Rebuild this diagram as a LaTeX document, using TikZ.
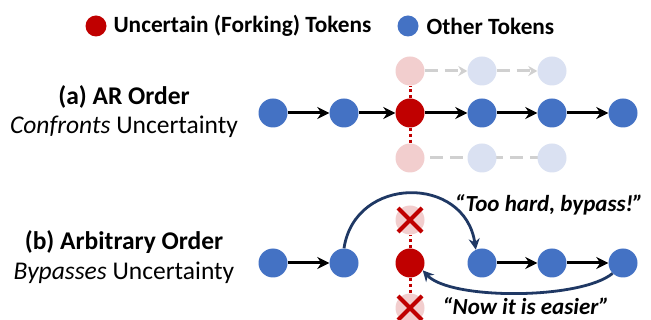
\documentclass[tikz,border=0pt]{standalone}
\usepackage{fontspec}
\setmainfont{Carlito}
\usetikzlibrary{arrows.meta,backgrounds}

\definecolor{tokred}{HTML}{C00000}
\definecolor{tokblue}{HTML}{4472C4}
\definecolor{fadered}{HTML}{F2CECE}
\definecolor{fadeblue}{HTML}{DAE1F2}
\definecolor{fadegray}{HTML}{D0D0D0}
\definecolor{arcblue}{HTML}{1F3864}

\tikzset{
  tok/.style={circle, fill=tokblue, minimum size=29pt, inner sep=0pt},
  fork/.style={tok, fill=tokred},
  ghostfork/.style={tok, fill=fadered},
  ghosttok/.style={tok, fill=fadeblue},
  legdot/.style={circle, minimum size=21pt, inner sep=0pt},
  nextarrow/.style={-{Stealth[length=12pt,width=12pt]}, line width=3pt, black},
  ghostline/.style={line width=3pt, fadegray, dash pattern=on 13pt off 7pt},
  forkline/.style={line width=3pt, tokred, dash pattern=on 3pt off 3pt},
  skiparc/.style={-{Stealth[length=11pt,width=11pt]}, line width=2.8pt, arcblue},
  legtext/.style={font=\bfseries\fontsize{23.3}{28}\selectfont},
  headtext/.style={font=\bfseries\fontsize{25.5}{30}\selectfont},
  subtext/.style={font=\fontsize{25.5}{30}\selectfont},
  quote/.style={font=\bfseries\itshape\fontsize{23}{27}\selectfont},
  crossline/.style={tokred, line width=4pt}
}

\begin{document}
\begin{tikzpicture}[x=1pt,y=-1pt]
    \useasboundingbox (0,0) rectangle (651,320);

    % Legend
    \node[legdot, fill=tokred] (legfork) at (96,26) {};
    \node[legtext, anchor=west] (legforktxt) at (110,26) {Uncertain (Forking) Tokens};
    \node[legdot, fill=tokblue] (legtok) at (408,26) {};
    \node[legtext, anchor=west] (legtoktxt) at (423,26) {Other Tokens};

    % Labels left
    \node[headtext] (laba) at (124,97) {(a) AR Order};
    \node[subtext] (subla) at (124,127) {\textit{Confronts} Uncertainty};
    \node[headtext] (labb) at (124,242) {(b) Arbitrary Order};
    \node[subtext] (sublb) at (124,273) {\textit{Bypasses} Uncertainty};

    % (a) main chain
    \node[tok]  (a1) at (273,113) {};
    \node[tok]  (a2) at (344,113) {};
    \node[fork] (a3) at (410,113) {};
    \node[tok]  (a4) at (482,113) {};
    \node[tok]  (a5) at (552,113) {};
    \node[tok]  (a6) at (623,113) {};
    % (a) the other branches
    \node[ghostfork] (au3) at (410,71) {};
    \node[ghosttok]  (au4) at (482,71) {};
    \node[ghosttok]  (au5) at (552,71) {};
    \node[ghostfork] (ad3) at (410,158) {};
    \node[ghosttok]  (ad4) at (482,158) {};
    \node[ghosttok]  (ad5) at (552,158) {};

    \draw[nextarrow] (a1) -- (a2);
    \draw[nextarrow] (a2) -- (a3);
    \draw[nextarrow] (a3) -- (a4);
    \draw[nextarrow] (a4) -- (a5);
    \draw[nextarrow] (a5) -- (a6);
    \draw[forkline] (a3) -- (au3);
    \draw[forkline] (a3) -- (ad3);
    \draw[ghostline, -{Stealth[length=9pt,width=10pt]}] (au3) -- (au4);
    \draw[ghostline, -{Stealth[length=9pt,width=10pt]}] (au4) -- (au5);
    \begin{scope}[on background layer]
        \draw[ghostline] (ad3.center) -- (ad5.center);
    \end{scope}

    % (b) chain
    \node[tok]  (b1) at (273,263) {};
    \node[tok]  (b2) at (344,263) {};
    \node[fork] (b3) at (410,263) {};
    \node[tok]  (b4) at (482,263) {};
    \node[tok]  (b5) at (552,263) {};
    \node[tok]  (b6) at (623,263) {};
    \node[ghostfork] (bu3) at (410,220) {};
    \node[ghostfork] (bd3) at (410,308) {};

    \draw[nextarrow] (b1) -- (b2);
    \draw[nextarrow] (b4) -- (b5);
    \draw[nextarrow] (b5) -- (b6);
    \draw[forkline] (b3) -- (bu3);
    \draw[forkline] (b3) -- (bd3);
    % crosses
    \draw[crossline] ([shift={(-12pt,-12pt)}]bu3.center) -- ([shift={(12pt,12pt)}]bu3.center);
    \draw[crossline] ([shift={(-12pt,12pt)}]bu3.center) -- ([shift={(12pt,-12pt)}]bu3.center);
    \draw[crossline] ([shift={(-12pt,-12pt)}]bd3.center) -- ([shift={(12pt,12pt)}]bd3.center);
    \draw[crossline] ([shift={(-12pt,12pt)}]bd3.center) -- ([shift={(12pt,-12pt)}]bd3.center);

    % jump over and come back
    \draw[skiparc] (b2.north) .. controls (355,175) and (465,175) .. (b4.115);
    \draw[skiparc] (b6.225) .. controls (580,300) and (450,300) .. (b3.-30);
    \node[quote] (hardtxt) at (549,205) {“Too hard, bypass!”};
    \node[quote] (easytxt) at (526,306) {“Now it is easier”};
\end{tikzpicture}
\end{document}
